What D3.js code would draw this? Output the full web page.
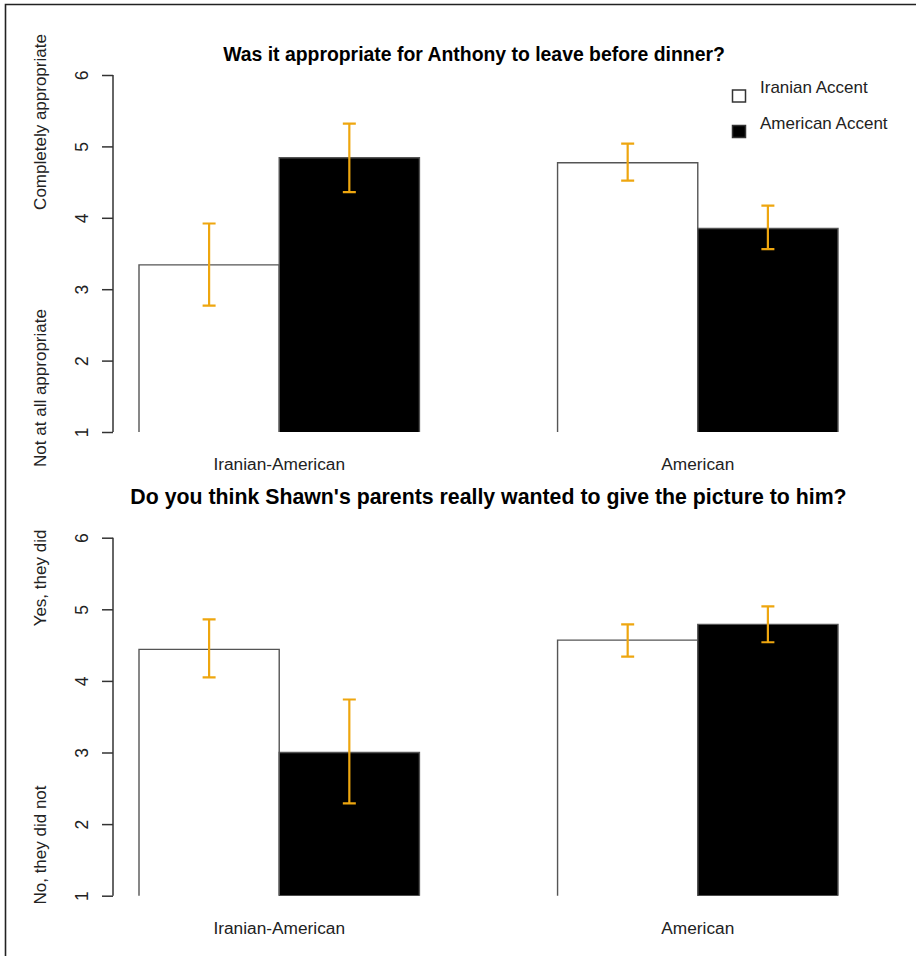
<!DOCTYPE html>
<html>
<head>
<meta charset="utf-8">
<script src="https://cdn.jsdelivr.net/npm/d3@7"></script>
<style>
  html, body { margin: 0; padding: 0; background: #fff; }
  svg { display: block; font-family: "Liberation Sans", Arial, sans-serif; }
</style>
</head>
<body>
<svg id="chart" width="916" height="956"></svg>
<script>
// Groups on the x axis and the two accent conditions
const categories = ["Iranian-American", "American"];
const series = ["Iranian Accent", "American Accent"];
const yTicks = [1, 2, 3, 4, 5, 6];

// Question 1: appropriateness of leaving before dinner
const q1Title = "Was it appropriate for Anthony to leave before dinner?";
const q1Means = [[3.34, 4.84], [4.77, 3.85]];
const q1Lower = [[2.77, 4.36], [4.52, 3.56]];
const q1Upper = [[3.92, 5.32], [5.04, 4.17]];
const q1HighLabel = "Completely appropriate";
const q1LowLabel = "Not at all appropriate";

// Question 2: did the parents really want to give the picture
const q2Title = "Do you think Shawn's parents really wanted to give the picture to him?";
const q2Means = [[4.44, 3.00], [4.57, 4.79]];
const q2Lower = [[4.05, 2.29], [4.34, 4.54]];
const q2Upper = [[4.86, 3.74], [4.79, 5.04]];
const q2HighLabel = "Yes, they did";
const q2LowLabel = "No, they did not";

const fills = ["#ffffff", "#000000"];
const errColor = "#eea60f";

const svg = d3.select("#chart");

// Outer frame
svg.append("path")
  .attr("d", "M5.5,956 L5.5,4.5 L916,4.5")
  .attr("fill", "none").attr("stroke", "#222").attr("stroke-width", 1.6);

const x0 = d3.scaleBand().domain(categories).range([139, 838]).paddingInner(0.33).paddingOuter(0);
const x1 = d3.scaleBand().domain(series).range([0, x0.bandwidth()]).padding(0);

function panel(cfg) {
  const y = d3.scaleLinear().domain([1, 6]).range([cfg.bottom, cfg.top]);
  const g = svg.append("g");

  // Title
  g.append("text")
    .attr("x", cfg.titleX).attr("y", cfg.titleY)
    .attr("text-anchor", "middle")
    .attr("font-size", cfg.titleSize).attr("font-weight", "bold").attr("fill", "#000")
    .text(cfg.title);

  // Y axis (R style: rotated tick labels)
  const axis = g.append("g").attr("transform", "translate(113,0)")
    .call(d3.axisLeft(y).tickValues(yTicks).tickSize(11).tickPadding(0).tickFormat(d3.format("d")));
  axis.select(".domain").attr("stroke", "#333").attr("stroke-width", 1.5).attr("d", `M0,${y(1)}V${y(6)}`);
  axis.selectAll(".tick line").attr("stroke", "#333").attr("stroke-width", 1.5);
  axis.selectAll(".tick text")
    .attr("x", null).attr("dy", null)
    .attr("transform", "translate(-31,0) rotate(-90)")
    .attr("text-anchor", "middle").attr("dominant-baseline", "central")
    .attr("font-size", 17.5).attr("fill", "#222")
    .attr("font-family", "Liberation Sans, Arial, sans-serif");

  // Scale-end descriptions
  [[cfg.highLabel, cfg.highY], [cfg.lowLabel, cfg.lowY]].forEach(([t, yy]) => {
    g.append("text")
      .attr("transform", `translate(40,${yy}) rotate(-90)`)
      .attr("text-anchor", "middle").attr("dominant-baseline", "central")
      .attr("font-size", 17).attr("fill", "#222")
      .text(t);
  });

  // Bars
  const groups = g.selectAll(".grp").data(categories).join("g")
    .attr("transform", d => `translate(${x0(d)},0)`);

  groups.each(function (cat, ci) {
    const gg = d3.select(this);
    series.forEach((s, si) => {
      const v = cfg.means[ci][si];
      const bx = x1(s), bw = x1.bandwidth();
      gg.append("rect")
        .attr("x", bx).attr("y", y(v))
        .attr("width", bw).attr("height", y(1) - y(v))
        .attr("fill", fills[si]);
      // outline on left, top, right only (bottom sits on the plot edge)
      gg.append("path")
        .attr("d", `M${bx},${y(1)}V${y(v)}H${bx + bw}V${y(1)}`)
        .attr("fill", "none").attr("stroke", "#555").attr("stroke-width", 1.4);
    });
  });

  // Error bars
  groups.each(function (cat, ci) {
    const gg = d3.select(this);
    series.forEach((s, si) => {
      const cx = x1(s) + x1.bandwidth() / 2;
      const lo = y(cfg.lower[ci][si]), hi = y(cfg.upper[ci][si]);
      gg.append("path")
        .attr("d", `M${cx},${hi}V${lo}M${cx - 6.5},${hi}H${cx + 6.5}M${cx - 6.5},${lo}H${cx + 6.5}`)
        .attr("fill", "none").attr("stroke", errColor).attr("stroke-width", 2.2);
    });
  });

  // Category labels
  g.selectAll(".cat").data(categories).join("text")
    .attr("x", d => x0(d) + x0.bandwidth() / 2)
    .attr("y", cfg.bottom + 38)
    .attr("text-anchor", "middle")
    .attr("font-size", 17.3).attr("fill", "#222")
    .text(d => d);
}

panel({
  title: q1Title, titleX: 474, titleY: 60.5, titleSize: 19.4, top: 75, bottom: 432,
  means: q1Means, lower: q1Lower, upper: q1Upper,
  highLabel: q1HighLabel, highY: 122, lowLabel: q1LowLabel, lowY: 388
});

panel({
  title: q2Title, titleX: 488.5, titleY: 503.5, titleSize: 21.3, top: 537.7, bottom: 895.7,
  means: q2Means, lower: q2Lower, upper: q2Upper,
  highLabel: q2HighLabel, highY: 578, lowLabel: q2LowLabel, lowY: 845
});

// Legend
const legend = svg.append("g").attr("transform", "translate(732,0)");
series.forEach((s, i) => {
  const ly = [96, 131.5][i];
  legend.append("rect")
    .attr("x", 0.5).attr("y", ly - 6).attr("width", 13).attr("height", 12)
    .attr("fill", fills[i]).attr("stroke", "#333").attr("stroke-width", 1.5);
  legend.append("text")
    .attr("x", 28).attr("y", [93.3, 129][i])
    .attr("font-size", 17).attr("fill", "#222")
    .text(s);
});
</script>
</body>
</html>
